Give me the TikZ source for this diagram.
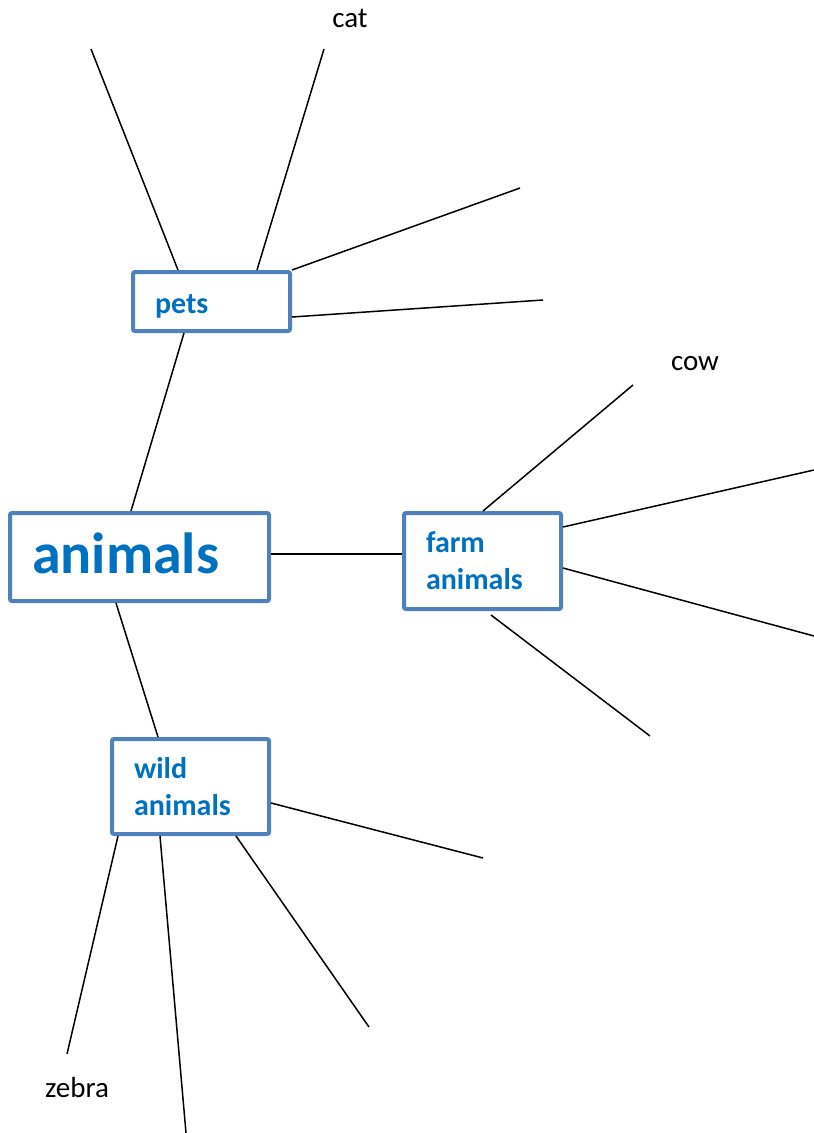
\documentclass[tikz,border=0pt]{standalone}
\usepackage{fontspec}
\setmainfont{Carlito}
\definecolor{boxblue}{HTML}{4F81BD}
\definecolor{textblue}{HTML}{0070C0}
\begin{document}
\begin{tikzpicture}[x=1pt,y=-1pt,
  box/.style={draw=boxblue, line width=4pt, rounded corners=2pt, fill=white,
    text=textblue, font=\bfseries, align=left, anchor=north west, inner ysep=0pt},
  link/.style={draw=black, line width=1.5pt},
  leaf/.style={anchor=base, font=\fontsize{29}{32}\selectfont, inner sep=0pt}]
\useasboundingbox (0,0) rectangle (814,1133);
% boxes (north west = outer corner)
\node[box, minimum width=259pt, minimum height=88pt, inner xsep=22pt, text width=215pt,
      font=\bfseries\fontsize{58}{62}\selectfont, text height=33pt, text depth=0pt]
  (animals) at (8,511) {animals};
\node[box, minimum width=157pt, minimum height=59pt, inner xsep=22pt, text width=113pt,
      font=\bfseries\fontsize{30}{37}\selectfont, text height=23pt, text depth=0pt]
  (pets) at (131,270) {pets};
\node[box, minimum width=157pt, minimum height=96pt, inner xsep=22pt, text width=113pt,
      font=\bfseries\fontsize{30}{37}\selectfont]
  (farm) at (402,511) {farm\\animals};
\node[box, minimum width=157pt, minimum height=95pt, inner xsep=22pt, text width=113pt,
      font=\bfseries\fontsize{30}{37}\selectfont]
  (wild) at (110,737) {wild\\animals};
% leaf labels
\node[leaf] (cat) at (350,27) {cat};
\node[leaf] (cow) at (695,370) {cow};
\node[leaf] (zebra) at (77,1097) {zebra};
% free ends
\coordinate (p1) at (91,49);
\coordinate (p2) at (324,49);
\coordinate (p3) at (520,188);
\coordinate (p4) at (543,300);
\coordinate (f1) at (633,385);
\coordinate (f2) at (814,470);
\coordinate (f3) at (814,636);
\coordinate (f4) at (650,736);
\coordinate (w1) at (483,858);
\coordinate (w2) at (369,1027);
\coordinate (w3) at (186,1133);
\coordinate (w4) at (67,1054);
% connectors between boxes
\draw[link] ([xshift=123pt]animals.north west) -- ([xshift=53pt]pets.south west);
\draw[link] ([yshift=-43pt]animals.north east) -- ([yshift=-43pt]farm.north west);
\draw[link] ([xshift=108pt]animals.south west) -- ([xshift=48pt]wild.north west);
% pets branches
\draw[link] ([xshift=47pt]pets.north west) -- (p1);
\draw[link] ([xshift=126pt]pets.north west) -- (p2);
\draw[link] (pets.north east) -- (p3);
\draw[link] ([yshift=-47pt]pets.north east) -- (p4);
% farm branches
\draw[link] ([xshift=81pt]farm.north west) -- (f1);
\draw[link] ([yshift=-16pt]farm.north east) -- (f2);
\draw[link] ([yshift=-57pt]farm.north east) -- (f3);
\draw[link] ([xshift=89pt,yshift=-4pt]farm.south west) -- (f4);
% wild branches
\draw[link] ([yshift=33pt]wild.south east) -- (w1);
\draw[link] ([xshift=126pt]wild.south west) -- (w2);
\draw[link] ([xshift=50pt]wild.south west) -- (w3);
\draw[link] ([xshift=8pt]wild.south west) -- (w4);
\end{tikzpicture}
\end{document}
